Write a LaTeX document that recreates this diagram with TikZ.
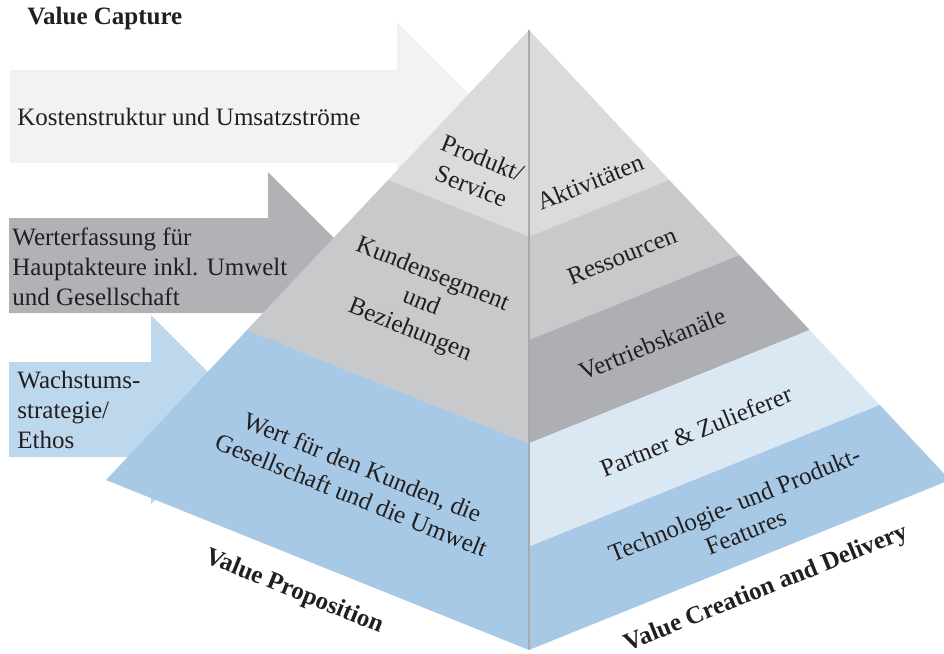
\documentclass[tikz,border=0pt]{standalone}
\usepackage{fontspec}
\setmainfont{Liberation Serif}
\usetikzlibrary{calc}
\definecolor{inkdark}{HTML}{231F20}
\definecolor{topgray}{HTML}{DADBDD}
\definecolor{midgray}{HTML}{C8C9CB}
\definecolor{darkgray}{HTML}{AEAFB2}
\definecolor{paleblue}{HTML}{DAE8F3}
\definecolor{valueblue}{HTML}{A7C9E5}
\definecolor{ridgegray}{HTML}{A9AAAC}
\definecolor{costfill}{HTML}{F1F2F3}
\definecolor{capturefill}{HTML}{B1B2B5}
\definecolor{growthfill}{HTML}{BDD7EC}
\tikzset{
  facelabel/.style={font=\fontsize{12.5}{15}\selectfont, text=inkdark, align=center, inner sep=0pt},
  leftface/.style={facelabel, rotate=-22},
  rightface/.style={facelabel, rotate=22},
  arrowlabel/.style={font=\fontsize{12.5}{15}\selectfont, text=inkdark, align=left, anchor=west, inner sep=0pt},
  axislabel/.style={font=\fontsize{12.5}{15}\selectfont\bfseries, text=inkdark, inner sep=0pt},
  ridge/.style={draw=ridgegray, line width=1pt}
}
\begin{document}
\begin{tikzpicture}[x=0.5pt, y=-0.5pt]
  \clip (0,0) rectangle (944,654);
  % block arrows behind the pyramid
  \fill[costfill] (10,70) -- (397,70) -- (397,22) -- (491.5,116.5) -- (397,211) -- (397,163) -- (10,163) -- cycle;
  \fill[capturefill] (9,218) -- (268,218) -- (268,172) -- (361.5,265.5) -- (268,359) -- (268,313) -- (9,313) -- cycle;
  \fill[growthfill] (9,362) -- (151,362) -- (151,315) -- (245.5,409.5) -- (151,504) -- (151,457) -- (9,457) -- cycle;

  % pyramid corners
  \coordinate (apex) at (529,30);
  \coordinate (lc) at (106,480);
  \coordinate (fc) at (529,650);
  \coordinate (rc) at (950,480);

  % left face
  \foreach \ta/\tb/\col in {0/0.3333/topgray, 0.3333/0.6667/midgray, 0.6667/1/valueblue}
    \fill[\col] ($(apex)!\ta!(lc)$) -- ($(apex)!\tb!(lc)$) -- ($(apex)!\tb!(fc)$) -- ($(apex)!\ta!(fc)$) -- cycle;
  % right face
  \foreach \ta/\tb/\col in {0/0.3333/topgray, 0.3333/0.5/midgray, 0.5/0.6667/darkgray, 0.6667/0.8333/paleblue, 0.8333/1/valueblue}
    \fill[\col] ($(apex)!\ta!(rc)$) -- ($(apex)!\tb!(rc)$) -- ($(apex)!\tb!(fc)$) -- ($(apex)!\ta!(fc)$) -- cycle;
  \draw[ridge] (apex) -- (fc);

  % arrow texts
  \node[axislabel, anchor=west] (capture) at (27,18) {Value Capture};
  \node[arrowlabel] (cost) at (17,117) {Kostenstruktur und Umsatzströme};
  \node[arrowlabel] (worth) at (12,267) {Werterfassung für\\Hauptakteure inkl. Umwelt\\und Gesellschaft};
  \node[arrowlabel] (growth) at (17,410) {Wachstums-\\strategie/\\Ethos};

  % face texts
  \node[leftface] (product) at (477,172) {Produkt/\\Service};
  \node[leftface] (segment) at (421,303) {Kundensegment\\und\\Beziehungen};
  \node[leftface] (worthcust) at (357,481) {Wert für den Kunden, die\\Gesellschaft und die Umwelt};
  \node[rightface] (activity) at (590,182) {Aktivitäten};
  \node[rightface] (resource) at (622,256) {Ressourcen};
  \node[rightface] (channel) at (652,344) {Vertriebskanäle};
  \node[rightface] (partner) at (696,431) {Partner \& Zulieferer};
  \node[rightface] (feature) at (740,518) {Technologie- und Produkt-\\Features};

  % axis titles
  \node[axislabel, rotate=-22] (proposition) at (294,592) {Value Proposition};
  \node[axislabel, rotate=22] (delivery) at (766,589) {Value Creation and Delivery};
\end{tikzpicture}
\end{document}
